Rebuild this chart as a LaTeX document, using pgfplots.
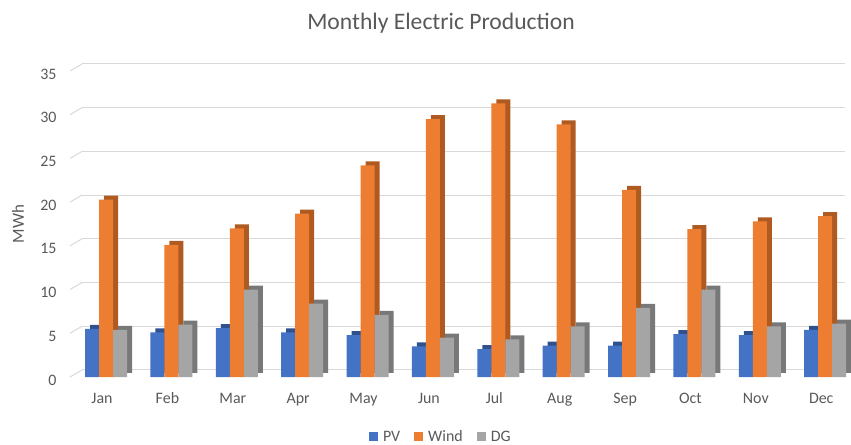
\documentclass[border=0pt]{standalone}
\usepackage{fontspec}
\setmainfont{Carlito}
\usepackage{pgfplots}
\usepackage{pgfplotstable}
\pgfplotsset{compat=1.18}
\definecolor{pvc}{HTML}{4472C4}
\definecolor{pvs}{HTML}{2F528F}
\definecolor{windc}{HTML}{ED7D31}
\definecolor{winds}{HTML}{AE5A21}
\definecolor{dgc}{HTML}{A5A5A5}
\definecolor{dgs}{HTML}{787878}
\definecolor{gridc}{HTML}{D9D9D9}
\definecolor{txt}{HTML}{595959}
\pgfplotstableread{
x PV Wind DG
0 5.5 20.3 5.4
1 5.1 15.1 6.0
2 5.6 17.0 10.0
3 5.1 18.7 8.4
4 4.8 24.2 7.1
5 3.5 29.5 4.5
6 3.2 31.3 4.3
7 3.6 28.9 5.8
8 3.6 21.4 7.9
9 4.9 16.9 10.0
10 4.8 17.8 5.8
11 5.4 18.4 6.1
}\data
\begin{document}
\begin{tikzpicture}
\useasboundingbox (0,0) rectangle (851bp,445bp);
\node[anchor=base, font=\fontsize{23.7}{28}\selectfont, text=txt, inner sep=0pt] at (441bp,415bp) {Monthly Electric Production};
\begin{axis}[
  at={(70bp,68bp)}, anchor=south west,
  scale only axis, width=763bp, height=306bp,
  clip=false,
  ybar, bar width=14bp,
  xmin=-0.49, xmax=11.18, ymin=0, ymax=35,
  xtick={0,...,11},
  xticklabels={Jan,Feb,Mar,Apr,May,Jun,Jul,Aug,Sep,Oct,Nov,Dec},
  ytick={0,5,...,35},
  axis line style={draw=none},
  major tick length=0pt,
  tick label style={font=\fontsize{16}{19}\selectfont, text=txt},
  /pgf/number format/assume math mode=true,
  yticklabel style={xshift=-10bp, yshift=-3bp},
  xticklabel style={text height=11bp, text depth=3bp, yshift=-12bp},
  ymajorgrids,
  major grid style={draw=gridc, line width=1bp, xshift=12bp, yshift=7bp},
  ylabel={MWh},
  ylabel style={at={(axis description cs:-0.068,0.5)}, anchor=center, font=\fontsize{17}{20}\selectfont, text=txt},
  legend style={at={(axis description cs:0.486,-0.196)}, anchor=center, draw=none, fill=none,
    legend columns=3, font=\fontsize{16}{19}\selectfont, text=txt,
    /tikz/every odd column/.append style={column sep=3bp},
    /tikz/every even column/.append style={column sep=12bp}},
  legend image code/.code={\fill[#1] (0bp,-4.5bp) rectangle (9bp,4.5bp);},
]
\pgfplotsinvokeforeach{0,5,10,15,20,25,30,35}{
  \draw[gridc, line width=1bp] (axis cs:-0.49,#1) -- ++(12bp,7bp);
}
\addplot[fill=pvs, draw=none, bar shift=-10bp, xshift=5bp, yshift=4bp, forget plot] table[x=x,y=PV]{\data};
\addplot[fill=pvc, draw=none, bar shift=-10bp] table[x=x,y=PV]{\data};
\addplot[fill=winds, draw=none, bar shift=4bp, xshift=5bp, yshift=4bp, forget plot] table[x=x,y=Wind]{\data};
\addplot[fill=windc, draw=none, bar shift=4bp] table[x=x,y=Wind]{\data};
\addplot[fill=dgs, draw=none, bar shift=18bp, xshift=5bp, yshift=4bp, forget plot] table[x=x,y=DG]{\data};
\addplot[fill=dgc, draw=none, bar shift=18bp] table[x=x,y=DG]{\data};
\legend{PV,Wind,DG}
\end{axis}
\end{tikzpicture}
\end{document}
